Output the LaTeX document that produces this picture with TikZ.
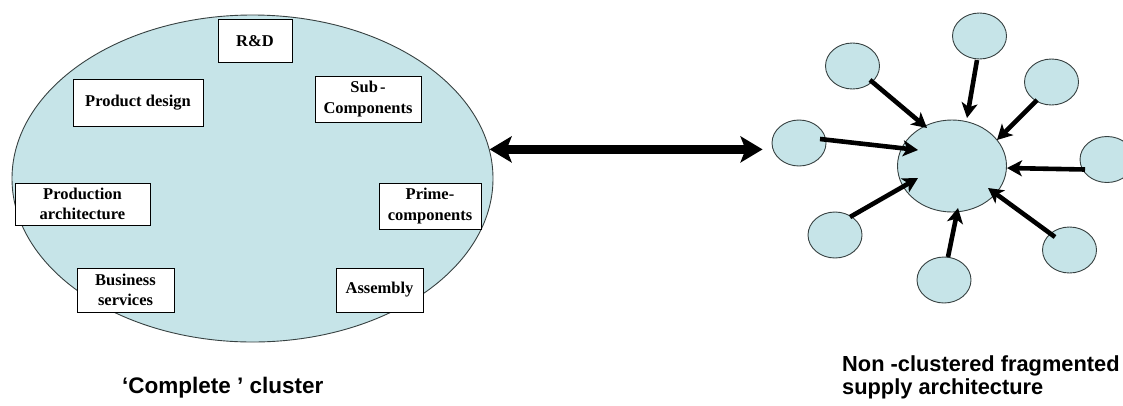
\documentclass[tikz,border=0pt]{standalone}
\usepackage{fontspec}
\setmainfont{Liberation Serif}
\newfontfamily\arialfont{Liberation Sans}
\usetikzlibrary{shapes.geometric,arrows.meta,calc}
\definecolor{clfill}{RGB}{198,228,232}
\definecolor{clline}{RGB}{55,65,65}
\begin{document}
\begin{tikzpicture}[x=1pt,y=-1pt,
  blob/.style={ellipse, draw=clline, line width=0.9pt, fill=clfill, inner sep=0pt},
  sat/.style={blob, minimum width=54pt, minimum height=46pt},
  box/.style={draw=black, line width=0.9pt, fill=white, inner sep=0pt, align=center,
    font=\fontsize{16.5}{20.5}\selectfont\bfseries},
  spoke/.style={line width=4.6pt, -{Stealth[length=15pt,width=16pt,inset=4pt]}},
  bigarrow/.style={line width=9pt,
    {Stealth[length=22pt,width=26pt,inset=5pt]}-{Stealth[length=22pt,width=26pt,inset=5pt]}},
  caption/.style={font=\arialfont\bfseries\fontsize{22.5}{23.5}\selectfont, inner sep=0pt}
]
\useasboundingbox (0,0) rectangle (1123,405);

% complete cluster
\node[blob, minimum width=481pt, minimum height=327pt] (cluster) at (252.5,178.5) {};
\node[box, minimum width=74pt, minimum height=43pt] (rd) at (255,41) {R\&D};
\node[box, minimum width=130pt, minimum height=47pt] (pd) at (138,102.5) {Product design};
\node[box, minimum width=106pt, minimum height=46pt] (sub) at (368,99) {Sub\kern2pt-\\Components};
\node[box, minimum width=135pt, minimum height=42pt] (prod) at (82.5,204) {Production\\architecture};
\node[box, minimum width=102pt, minimum height=46pt] (prime) at (430,206) {Prime-\\components};
\node[box, minimum width=97pt, minimum height=44pt] (bus) at (125.5,290) {Business\\services};
\node[box, minimum width=87pt, minimum height=44pt] (asm) at (379.5,290) {Assembly};

% fragmented architecture
\node[blob, minimum width=109pt, minimum height=92pt] (hub) at (952,166) {};
\node[sat] (tp) at (979.5,36) {};
\node[sat] (ul) at (852.5,66) {};
\node[sat] (ur) at (1051.5,82) {};
\node[sat] (cl) at (799,143) {};
\node[sat] (cr) at (1107,159.5) {};
\node[sat] (ll) at (835,235) {};
\node[sat] (bt) at (944,280) {};
\node[sat] (lr) at (1069.5,250) {};

\draw[spoke] ($(ul)+(17.5,14)$) -- ($(hub)+(-25,-38)$);
\draw[spoke] ($(tp)+(-2.5,24)$) -- ($(hub)+(15,-48)$);
\draw[spoke] ($(ur)+(-14.5,18)$) -- ($(hub)+(45,-26)$);
\draw[spoke] ($(cl)+(21,-4)$) -- ($(hub)+(-34,-16)$);
\draw[spoke] ($(cr)+(-22,10)$) -- ($(hub)+(55,2)$);
\draw[spoke] ($(ll)+(15,-18)$) -- ($(hub)+(-34,12)$);
\draw[spoke] ($(bt)+(4,-23)$) -- ($(hub)+(6,42)$);
\draw[spoke] ($(lr)+(-14.5,-13)$) -- ($(hub)+(36,22)$);

% link
\draw[bigarrow, shorten >=9pt] (cluster.7) -- (cluster.7 -| cl.west);

% captions
\node[caption, anchor=base west] (capL) at (122,393) {‘Complete ’ cluster};
\node[caption, anchor=north west, align=left, font=\arialfont\bfseries\fontsize{21.8}{23.5}\selectfont] (capR) at (842,355) {Non -clustered fragmented\\supply architecture};
\end{tikzpicture}
\end{document}
